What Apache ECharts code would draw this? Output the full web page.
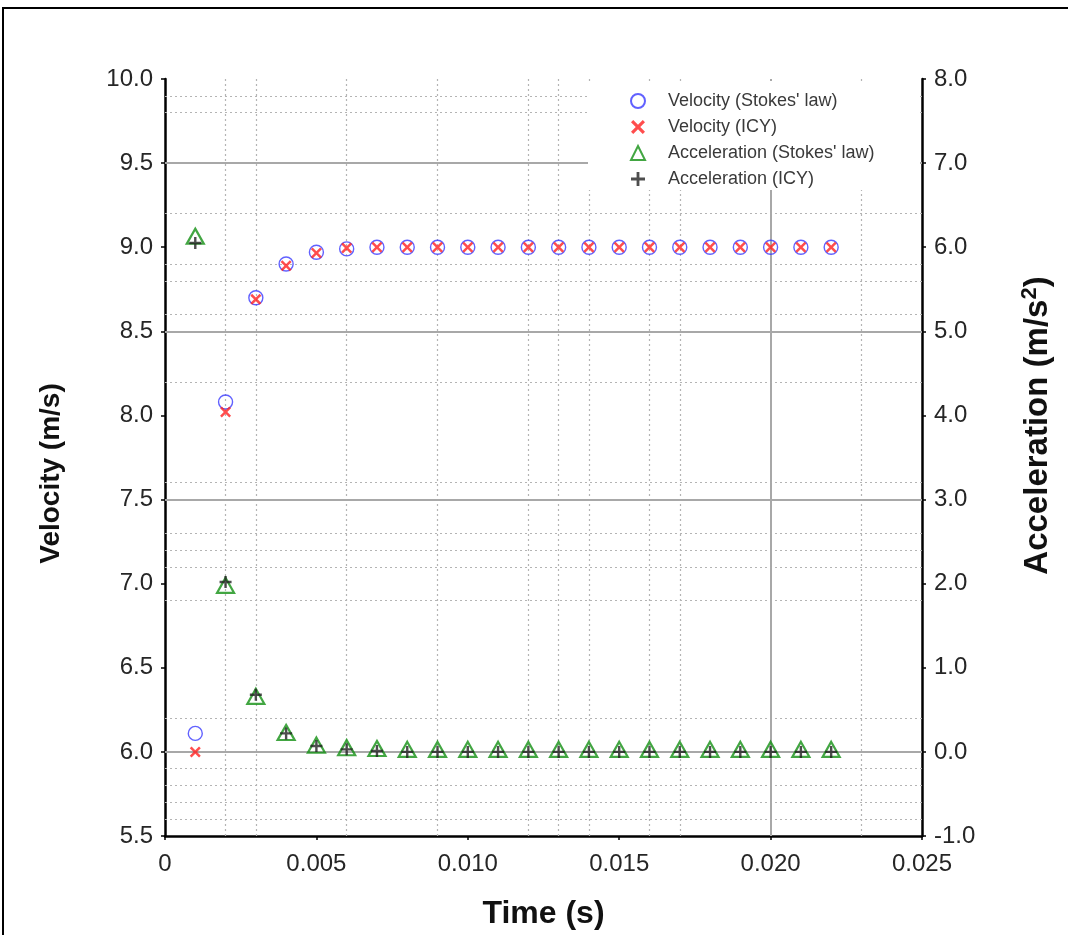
<!DOCTYPE html>
<html>
<head>
<meta charset="utf-8">
<script src="https://cdn.jsdelivr.net/npm/echarts@6/dist/echarts.min.js"></script>
<style>
  html, body { margin: 0; padding: 0; background: #fff; }
  #chart { width: 1068px; height: 935px; }
</style>
</head>
<body>
<div id="chart"></div>
<script>
// Time samples (s)
const times = [0.001, 0.002, 0.003, 0.004, 0.005, 0.006, 0.007, 0.008, 0.009, 0.010, 0.011,
               0.012, 0.013, 0.014, 0.015, 0.016, 0.017, 0.018, 0.019, 0.020, 0.021, 0.022];

// Velocity (m/s)
const velStokes = [6.11, 8.08, 8.70, 8.90, 8.97, 8.99, 9.0, 9.0, 9.0, 9.0, 9.0,
                   9.0, 9.0, 9.0, 9.0, 9.0, 9.0, 9.0, 9.0, 9.0, 9.0, 9.0];
const velICY    = [6.00, 8.02, 8.69, 8.89, 8.965, 8.995, 9.0, 9.0, 9.0, 9.0, 9.0,
                   9.0, 9.0, 9.0, 9.0, 9.0, 9.0, 9.0, 9.0, 9.0, 9.0, 9.0];

// Acceleration (m/s^2)
const accStokes = [6.13, 1.98, 0.66, 0.23, 0.08, 0.05, 0.04, 0.03, 0.03, 0.03, 0.03,
                   0.03, 0.03, 0.03, 0.03, 0.03, 0.03, 0.03, 0.03, 0.03, 0.03, 0.03];
const accICY    = [6.05, 2.02, 0.68, 0.22, 0.07, 0.03, 0.01, 0.0, 0.0, 0.0, 0.0,
                   0.0, 0.0, 0.0, 0.0, 0.0, 0.0, 0.0, 0.0, 0.0, 0.0, 0.0];

// Series names
const seriesNames = ["Velocity (Stokes' law)", "Velocity (ICY)",
                     "Acceleration (Stokes' law)", "Acceleration (ICY)"];

// Axis ranges
const xRange = [0, 0.025];
const yRange = [5.5, 10.0];

// Grid lines (axis values)
const solidGridY = [9.5, 8.5, 7.5, 6.0];
const solidGridX = [0.020];
const dottedGridY = [9.9, 9.8, 9.2, 8.9, 8.8, 8.6, 8.2, 7.6, 7.3, 7.2, 7.1, 6.9, 6.2, 5.9, 5.8, 5.7, 5.6];
const dottedGridX = [0.002, 0.003, 0.006, 0.009, 0.012, 0.013, 0.014, 0.016, 0.017, 0.023];

const pair = (xs, ys) => xs.map((x, i) => [x, ys[i]]);

const crossPath = 'path://M0,1.6 L1.6,0 L5,3.4 L8.4,0 L10,1.6 L6.6,5 L10,8.4 L8.4,10 L5,6.6 L1.6,10 L0,8.4 L3.4,5Z';
const plusPath  = 'path://M4,0H6V4H10V6H6V10H4V6H0V4H4Z';

const FONT = 'Liberation Sans, Arial, sans-serif';
const labelFont = { fontFamily: FONT, fontSize: 24, color: '#262626' };
const titleFont = { fontFamily: FONT, fontSize: 28, fontWeight: 'bold', color: '#111' };

const solidStyle  = { type: 'solid', color: '#a8a8a8', width: 2 };
const dottedStyle = { type: [2, 3], color: '#b4b4b4', width: 1.2 };

// Grid lines as two-point segments in data space
const gridLines = [];
const hLine = (v, style) => gridLines.push([{ coord: [xRange[0], v], lineStyle: style }, { coord: [xRange[1], v] }]);
const vLine = (v, style) => gridLines.push([{ coord: [v, yRange[0]], lineStyle: style }, { coord: [v, yRange[1]] }]);
dottedGridY.forEach(v => hLine(v, dottedStyle));
dottedGridX.forEach(v => vLine(v, dottedStyle));
solidGridY.forEach(v => hLine(v, solidStyle));
solidGridX.forEach(v => vLine(v, solidStyle));

const chart = echarts.init(document.getElementById('chart'));

chart.setOption({
  animation: false,
  backgroundColor: '#fff',
  grid: { left: 165, right: 146, top: 79, bottom: 99, containLabel: false },
  graphic: [
    { type: 'rect', z: 0, shape: { x: 3, y: 8, width: 1200, height: 1000 },
      style: { fill: 'none', stroke: '#000', lineWidth: 2 } },
    // white panel behind the legend
    { type: 'rect', z: 3, shape: { x: 588, y: 81, width: 332, height: 109 },
      style: { fill: '#fff', stroke: 'none' } }
  ],
  legend: {
    z: 6,
    orient: 'vertical',
    left: 625,
    top: 87,
    itemWidth: 14,
    itemHeight: 14,
    itemGap: 8,
    textStyle: { fontFamily: FONT, fontSize: 18, color: '#3a3a3a', padding: [0, 0, 0, 18] },
    data: seriesNames
  },
  xAxis: {
    type: 'value',
    min: xRange[0], max: xRange[1], interval: 0.005,
    name: 'Time (s)',
    nameLocation: 'middle',
    nameGap: 62,
    nameTextStyle: Object.assign({}, titleFont, { fontSize: 32 }),
    axisLine: { onZero: false, lineStyle: { color: '#000', width: 2.5 } },
    axisTick: { show: true, length: 4, inside: false, lineStyle: { color: '#000', width: 1.5 } },
    axisLabel: Object.assign({ margin: 16, formatter: v => v === 0 ? '0' : v.toFixed(3) }, labelFont),
    splitLine: { show: false }
  },
  yAxis: [
    {
      type: 'value',
      min: yRange[0], max: yRange[1], interval: 0.5,
      name: 'Velocity (m/s)',
      nameLocation: 'middle',
      nameGap: 100,
      nameRotate: 90,
      nameTextStyle: Object.assign({ padding: [0, 32, 0, 0] }, titleFont),
      axisLine: { show: true, lineStyle: { color: '#000', width: 2.5 } },
      axisTick: { show: true, length: 4, lineStyle: { color: '#000', width: 1.5 } },
      axisLabel: Object.assign({ margin: 12, formatter: v => v.toFixed(1) }, labelFont),
      splitLine: { show: false }
    },
    {
      type: 'value',
      position: 'right',
      min: -1.0, max: 8.0, interval: 1.0,
      name: 'Acceleration (m/s{sup|2})',
      nameLocation: 'middle',
      nameGap: 97,
      nameRotate: 90,
      nameTextStyle: Object.assign({}, titleFont, {
        fontSize: 33,
        padding: [0, 0, 0, 64],
        rich: { sup: { fontFamily: FONT, fontSize: 22, fontWeight: 'bold', color: '#111', verticalAlign: 'top', padding: [0, 0, 16, 0] } }
      }),
      axisLine: { show: true, lineStyle: { color: '#000', width: 2.5 } },
      axisTick: { show: true, length: 4, lineStyle: { color: '#000', width: 1.5 } },
      axisLabel: Object.assign({ margin: 12, formatter: v => v.toFixed(1) }, labelFont),
      splitLine: { show: false }
    }
  ],
  series: [
    {
      type: 'line', z: 1, data: [], silent: true,
      markLine: { z: 1, silent: true, symbol: 'none', label: { show: false }, animation: false, data: gridLines }
    },
    {
      name: seriesNames[0], type: 'scatter', z: 4, yAxisIndex: 0,
      symbol: 'circle', symbolSize: 14,
      itemStyle: { color: 'rgba(255,255,255,0)', borderColor: '#3a3aff', borderWidth: 1.4 },
      data: pair(times, velStokes)
    },
    {
      name: seriesNames[1], type: 'scatter', z: 4, yAxisIndex: 0,
      symbol: crossPath, symbolSize: 11,
      itemStyle: { color: '#ff2020' },
      data: pair(times, velICY)
    },
    {
      name: seriesNames[2], type: 'scatter', z: 4, yAxisIndex: 1,
      symbol: 'triangle', symbolSize: [17, 15],
      itemStyle: { color: 'rgba(255,255,255,0)', borderColor: '#139013', borderWidth: 2.2 },
      data: pair(times, accStokes)
    },
    {
      name: seriesNames[3], type: 'scatter', z: 4, yAxisIndex: 1,
      symbol: plusPath, symbolSize: 12,
      itemStyle: { color: '#222' },
      data: pair(times, accICY)
    }
  ]
});
</script>
</body>
</html>
